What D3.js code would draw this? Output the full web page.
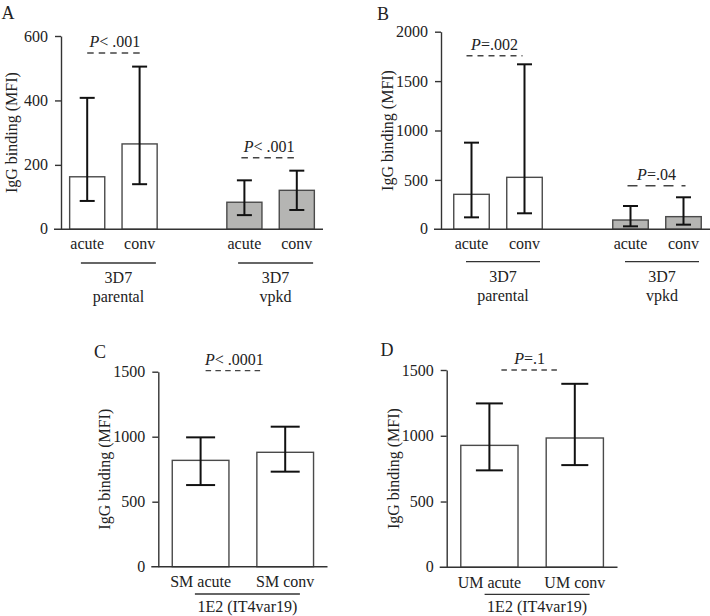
<!DOCTYPE html>
<html>
<head>
<meta charset="utf-8">
<script src="https://cdn.jsdelivr.net/npm/d3@7"></script>
<style>
  html, body { margin: 0; padding: 0; background: #fff; }
</style>
</head>
<body>
<svg id="chart" width="710" height="616"></svg>
<script>
// ---------- DATA ----------
const abCategories = ["acute", "conv", "acute", "conv"];
const abGroups = [["3D7", "parental"], ["3D7", "vpkd"]];

const aMean = [163, 265, 84, 121];
const aLow  = [88, 140, 44, 60];
const aHigh = [408, 505, 152, 182];
const aTicks = [0, 200, 400, 600];
const aPvalues = ["< .001", "< .001"];
const aBracketY = [547, 222];

const bMean = [354, 526, 94, 128];
const bLow  = [121, 162, 30, 47];
const bHigh = [877, 1670, 236, 324];
const bTicks = [0, 500, 1000, 1500, 2000];
const bPvalues = ["=.002", "=.04"];
const bBracketY = [1757, 441];

const cCategories = ["SM acute", "SM conv"];
const cMean = [818, 880];
const cLow  = [628, 731];
const cHigh = [995, 1077];
const cdTicks = [0, 500, 1000, 1500];
const cPvalues = ["< .0001"];
const cBracketY = [1508];

const dCategories = ["UM acute", "UM conv"];
const dMean = [927, 983];
const dLow  = [737, 777];
const dHigh = [1246, 1395];
const dPvalues = ["=.1"];
const dBracketY = [1500];

const cdGroups = [["1E2 (IT4var19)"]];
const yTitle = "IgG binding (MFI)";
const barFills = ["#ffffff", "#ffffff", "#b5b5b3", "#b5b5b3"];

// ---------- LAYOUT ----------
const FONT = "'Liberation Serif', 'Times New Roman', Times, serif";
const panels = [
  { letter: "A", lx: 8, ly: 19, axisX: 61, range: [61, 323], yTop: 36, yBot: 229.3,
    cats: abCategories, mean: aMean, low: aLow, high: aHigh, ticks: aTicks,
    groups: abGroups, gap: true, fills: barFills, cap: 15, titleX: 11,
    p: aPvalues, py: aBracketY, pdx: [[0, 3], [-3, 0]], dash: ["6.5,5", "6.5,5"],
    groupHalf: 37.5, groupOff: 5, catDy: 14, lineDy: 33.7, textDy: 47.7, textStep: 19 },
  { letter: "B", lx: 383, ly: 20, axisX: 441, range: [445, 710], yTop: 31.7, yBot: 229.3,
    cats: abCategories, mean: bMean, low: bLow, high: bHigh, ticks: bTicks,
    groups: abGroups, gap: true, fills: barFills, cap: 15, titleX: 387,
    p: bPvalues, py: bBracketY, pdx: [[-5, -2], [-3, 2]], dash: ["6,5", "10,8"],
    groupHalf: 37, groupOff: 5, catDy: 14, lineDy: 32.4, textDy: 47.4, textStep: 19 },
  { letter: "C", lx: 100, ly: 358, axisX: 158.3, range: [158.3, 327.5], yTop: 371.7, yBot: 566.7,
    cats: cCategories, mean: cMean, low: cLow, high: cHigh, ticks: cdTicks,
    groups: cdGroups, gap: false, fills: ["#ffffff", "#ffffff"], cap: 29, titleX: 104,
    p: cPvalues, py: cBracketY, pdx: [[5, -22]], dash: ["5.5,4.3"],
    groupHalf: 52.5, groupOff: 4.5, catDy: 15, lineDy: 27.3, textDy: 40, textStep: 19 },
  { letter: "D", lx: 387, ly: 356, axisX: 446.7, range: [446.7, 617.5], yTop: 370, yBot: 567.3,
    cats: dCategories, mean: dMean, low: dLow, high: dHigh, ticks: cdTicks,
    groups: cdGroups, gap: false, fills: ["#ffffff", "#ffffff"], cap: 27, titleX: 393,
    p: dPvalues, py: dBracketY, pdx: [[12, -17]], dash: ["5.5,4.5"],
    groupHalf: 52.5, groupOff: 5, catDy: 15, lineDy: 27, textDy: 39.5, textStep: 19 }
];

const svg = d3.select("#chart");

function txt(sel) {
  return sel.style("font-family", FONT).style("font-size", "16px").style("fill", "#222");
}

panels.forEach(P => {
  const g = svg.append("g");
  const keys = [];
  P.cats.forEach((c, i) => {
    if (P.gap && i === 2) keys.push("gap");
    keys.push("k" + i);
  });
  const x = d3.scaleBand().domain(keys).range(P.range).paddingInner(0.33).paddingOuter(0.165);
  const yMax = P.ticks[P.ticks.length - 1];
  const y = d3.scaleLinear().domain([0, yMax]).range([P.yBot, P.yTop]);
  const cx = i => x("k" + i) + x.bandwidth() / 2;

  // panel letter
  txt(g.append("text").attr("x", P.lx).attr("y", P.ly)
    .attr("text-anchor", "middle")).style("font-size", "18px").text(P.letter);

  // y axis
  const yAxis = d3.axisLeft(y).tickValues(P.ticks.slice(1)).tickFormat(d3.format("d"))
    .tickSize(6).tickPadding(7).tickSizeOuter(0);
  const ya = g.append("g").attr("transform", `translate(${P.axisX},0)`).call(yAxis);
  ya.attr("font-family", null).attr("font-size", null);
  ya.selectAll("path.domain").attr("stroke", "#333").attr("stroke-width", 1.4);
  ya.selectAll(".tick line").attr("stroke", "#333").attr("stroke-width", 1.4);
  txt(ya.selectAll(".tick text"));
  // zero label (sits at the x-axis extension)
  txt(g.append("text").attr("x", P.axisX - 13).attr("y", y(0)).attr("dy", "0.32em")
    .attr("text-anchor", "end")).text(d3.format("d")(P.ticks[0]));

  // y title
  txt(g.append("text")
    .attr("transform", `translate(${P.titleX},${(P.yTop + P.yBot) / 2}) rotate(-90)`)
    .attr("text-anchor", "middle").attr("dy", "0.35em")).text(yTitle);

  // bars
  g.selectAll("rect.bar").data(P.mean).enter().append("rect")
    .attr("x", (d, i) => x("k" + i))
    .attr("width", x.bandwidth())
    .attr("y", d => y(d))
    .attr("height", d => y(0) - y(d))
    .attr("fill", (d, i) => P.fills[i])
    .attr("stroke", "#4a4a4a").attr("stroke-width", 1.4);

  // error bars
  const eb = g.selectAll("g.eb").data(P.mean.map((m, i) => ({ i, lo: P.low[i], hi: P.high[i] }))).enter().append("g");
  eb.append("line").attr("x1", d => cx(d.i)).attr("x2", d => cx(d.i))
    .attr("y1", d => y(d.lo)).attr("y2", d => y(d.hi)).attr("stroke", "#111").attr("stroke-width", 2);
  ["lo", "hi"].forEach(k => {
    eb.append("line").attr("x1", d => cx(d.i) - P.cap / 2).attr("x2", d => cx(d.i) + P.cap / 2)
      .attr("y1", d => y(d[k])).attr("y2", d => y(d[k])).attr("stroke", "#111").attr("stroke-width", 2);
  });

  // x axis line
  g.append("line").attr("x1", P.axisX - 7).attr("x2", P.range[1])
    .attr("y1", y(0)).attr("y2", y(0)).attr("stroke", "#333").attr("stroke-width", 1.4);

  // category labels
  txt(g.selectAll("text.cat").data(P.cats).enter().append("text")
    .attr("x", (d, i) => cx(i)).attr("y", y(0) + P.catDy).attr("dy", "0.35em")
    .attr("text-anchor", "middle")).text(d => d);

  // group lines and labels
  P.groups.forEach((lines, gi) => {
    const mid = (cx(gi * 2) + cx(gi * 2 + 1)) / 2 + P.groupOff;
    g.append("line").attr("x1", mid - P.groupHalf).attr("x2", mid + P.groupHalf)
      .attr("y1", y(0) + P.lineDy).attr("y2", y(0) + P.lineDy).attr("stroke", "#333").attr("stroke-width", 1.3);
    lines.forEach((t, li) => {
      txt(g.append("text").attr("x", mid).attr("y", y(0) + P.textDy + li * P.textStep).attr("dy", "0.35em")
        .attr("text-anchor", "middle")).text(t);
    });
  });

  // significance brackets
  P.p.forEach((pv, k) => {
    const x1 = cx(k * 2) + P.pdx[k][0];
    const x2 = cx(k * 2 + 1) + P.pdx[k][1];
    const yy = y(P.py[k]);
    g.append("line").attr("x1", x1).attr("x2", x2).attr("y1", yy).attr("y2", yy)
      .attr("stroke", "#444").attr("stroke-width", 1.4).attr("stroke-dasharray", P.dash[k]);
    const t = txt(g.append("text").attr("x", (x1 + x2) / 2).attr("y", yy - 6)
      .attr("text-anchor", "middle"));
    t.append("tspan").style("font-style", "italic").text("P");
    t.append("tspan").text(pv);
  });
});
</script>
</body>
</html>
